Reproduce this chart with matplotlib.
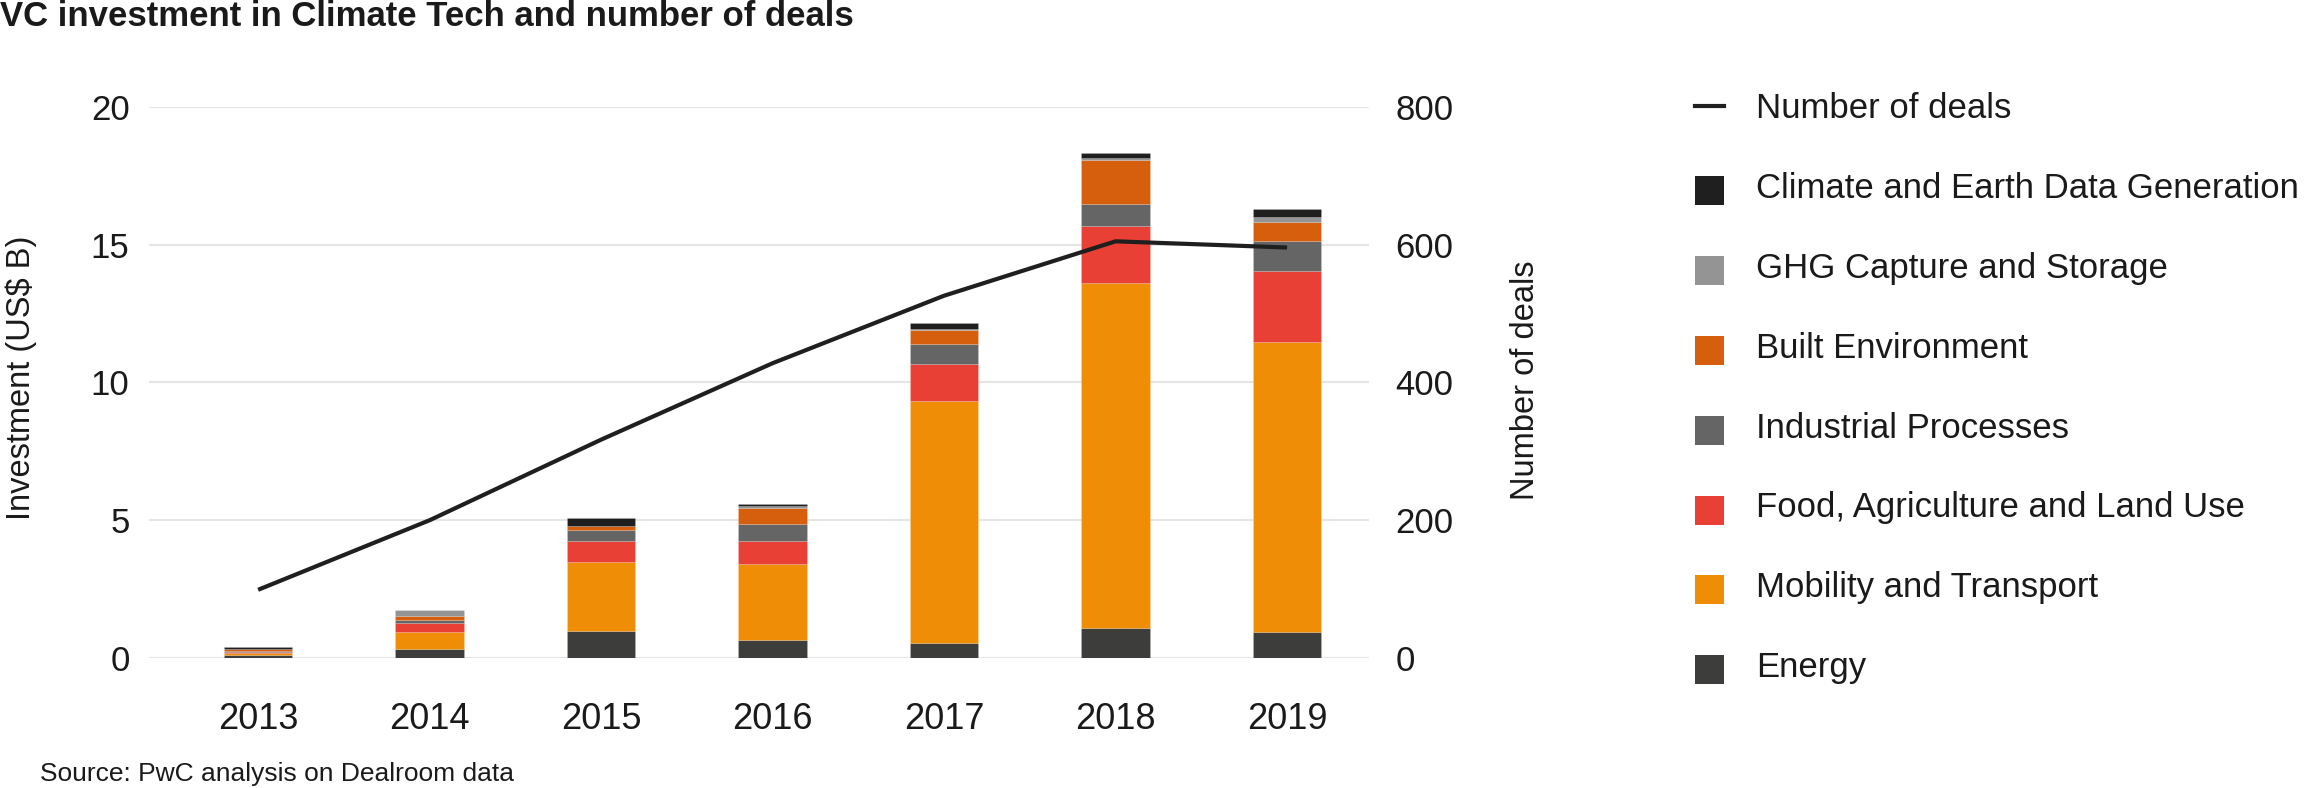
import matplotlib
matplotlib.use("Agg")
import matplotlib.pyplot as plt
from matplotlib.patches import Rectangle
from matplotlib.lines import Line2D
import numpy as np

plt.rcParams['font.family'] = ['Liberation Sans', 'DejaVu Sans']

# ── Data ──────────────────────────────────────────────────────
years = ['2013', '2014', '2015', '2016', '2017', '2018', '2019']

energy = [0.10, 0.33, 0.99, 0.65, 0.54, 1.09, 0.94]
mobility = [0.07, 0.61, 2.48, 2.75, 8.79, 12.51, 10.53]
food = [0.05, 0.32, 0.79, 0.86, 1.33, 2.07, 2.59]
industrial = [0.04, 0.13, 0.40, 0.59, 0.73, 0.80, 1.08]
built = [0.05, 0.15, 0.12, 0.61, 0.51, 1.59, 0.67]
ghg = [0.02, 0.20, 0.01, 0.06, 0.03, 0.09, 0.21]
climate = [0.06, 0.01, 0.28, 0.07, 0.24, 0.19, 0.29]

deals = [99, 200, 317, 428, 526, 605, 596]

series = [
    ('Energy', energy, '#3d3d3b'),
    ('Mobility and Transport', mobility, '#f08d06'),
    ('Food, Agriculture and Land Use', food, '#e84034'),
    ('Industrial Processes', industrial, '#656565'),
    ('Built Environment', built, '#d55f0d'),
    ('GHG Capture and Storage', ghg, '#949494'),
    ('Climate and Earth Data Generation', climate, '#1f1f1f'),
]
LINE_COLOR = '#1f1f1f'
TEXT_COLOR = '#1a1a1a'

# ── Figure ────────────────────────────────────────────────────
fig = plt.figure(figsize=(23.04, 7.88), dpi=100)
ax = fig.add_axes([0.0647, 0.1650, 0.5295, 0.6992])
ax2 = ax.twinx()

x = np.arange(len(years))
bottom = np.zeros(len(years))
for name, vals, color in series:
    ax.bar(x, vals, 0.4, bottom=bottom, color=color,
           edgecolor=(1, 1, 1, 0.2), linewidth=0.5, zorder=2)
    bottom += np.array(vals)

ax2.plot(x, deals, color=LINE_COLOR, linewidth=3, solid_capstyle='butt',
         zorder=3)

ax.set_xlim(-0.636, 6.478)
ax.set_ylim(0, 20)
ax2.set_ylim(0, 800)
ax.set_yticks([0, 5, 10, 15, 20])
ax2.set_yticks([0, 200, 400, 600, 800])
ax.set_xticks(x)
ax.set_xticklabels(years)

ax.set_axisbelow(True)
ax.grid(axis='y', color='#e5e5e5', linewidth=1.5)
for a in (ax, ax2):
    for s in a.spines.values():
        s.set_visible(False)
ax.tick_params(axis='x', length=0, pad=32, labelsize=26, labelcolor=TEXT_COLOR)
ax.tick_params(axis='y', length=0, pad=14, labelsize=25, labelcolor=TEXT_COLOR)
ax2.tick_params(axis='y', length=0, pad=19, labelsize=25, labelcolor=TEXT_COLOR)

fig.text(0.0093, 0.520, 'Investment (US$ B)', rotation=90, ha='center',
         va='center', fontsize=23.5, color=TEXT_COLOR)
fig.text(0.662, 0.518, 'Number of deals', rotation=90, ha='center',
         va='center', fontsize=23.5, color=TEXT_COLOR)

# ── Legend (drawn by hand) ────────────────────────────────────
W, H = 2304, 788
leg_x = 1695
sq = 29
rows_y = [109 + i * 79.8 for i in range(8)]
fig.add_artist(Line2D([leg_x / W, (leg_x + sq) / W],
                      [1 - (rows_y[0] - 3) / H] * 2, color=LINE_COLOR,
                      linewidth=3, transform=fig.transFigure))
fig.text(1756 / W, 1 - rows_y[0] / H, 'Number of deals', ha='left',
         va='center', fontsize=25, color=TEXT_COLOR)
for i, (name, vals, color) in enumerate(reversed(series)):
    yc = rows_y[i + 1]
    fig.add_artist(Rectangle((leg_x / W, 1 - (yc + 2 + sq / 2) / H),
                             sq / W, sq / H, facecolor=color,
                             edgecolor='none', transform=fig.transFigure))
    fig.text(1756 / W, 1 - yc / H, name, ha='left', va='center',
             fontsize=25, color=TEXT_COLOR)

# ── Title and source ──────────────────────────────────────────
fig.text(0.0, 1.0, 'VC investment in Climate Tech and number of deals',
         ha='left', va='top', fontsize=25, fontweight='bold',
         color=TEXT_COLOR)
fig.text(40 / W, 1 - 781 / H, 'Source: PwC analysis on Dealroom data',
         ha='left', va='baseline', fontsize=19, color=TEXT_COLOR)

fig.savefig('out.png', dpi=100)
